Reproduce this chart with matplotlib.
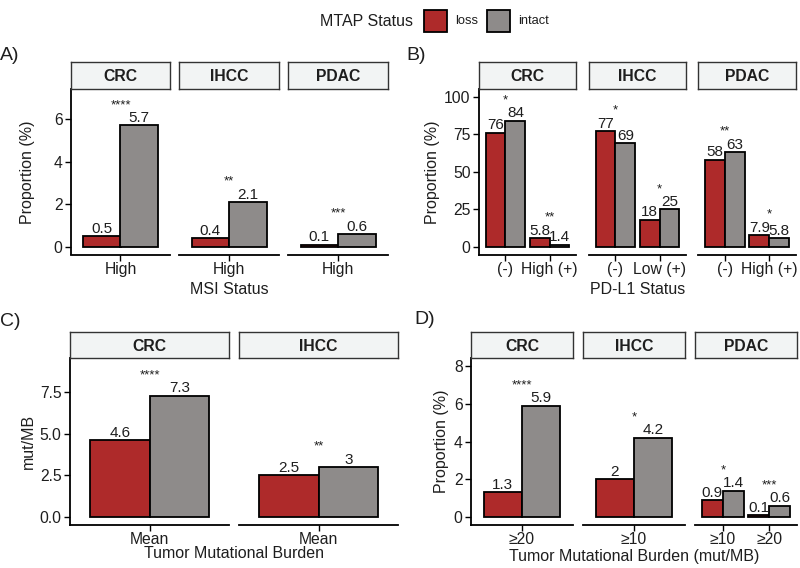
import matplotlib.pyplot as plt
from matplotlib.patches import Rectangle

plt.rcParams['font.family'] = ['Liberation Sans', 'DejaVu Sans']

LOSS_COL = '#AE2A2A'
INTACT_COL = '#8E8B8A'
STRIP_COL = '#F2F4F4'
TXT = '#1e1e1e'

# ---- data ----
# A) MSI status
a_facets = ['CRC', 'IHCC', 'PDAC']
a_cats = [['High'], ['High'], ['High']]
a_loss = [[0.5], [0.4], [0.1]]
a_intact = [[5.7], [2.1], [0.6]]
a_loss_lab = [['0.5'], ['0.4'], ['0.1']]
a_intact_lab = [['5.7'], ['2.1'], ['0.6']]
a_stars = [['****'], ['**'], ['***']]

# B) PD-L1 status
b_facets = ['CRC', 'IHCC', 'PDAC']
b_cats = [['(-)', 'High (+)'], ['(-)', 'Low (+)'], ['(-)', 'High (+)']]
b_loss = [[76, 5.8], [77, 18], [58, 7.9]]
b_intact = [[84, 1.4], [69, 25], [63, 5.8]]
b_loss_lab = [['76', '5.8'], ['77', '18'], ['58', '7.9']]
b_intact_lab = [['84', '1.4'], ['69', '25'], ['63', '5.8']]
b_stars = [['*', '**'], ['*', '*'], ['**', '*']]

# C) mean TMB
c_facets = ['CRC', 'IHCC']
c_cats = [['Mean'], ['Mean']]
c_loss = [[4.6], [2.5]]
c_intact = [[7.3], [3.0]]
c_loss_lab = [['4.6'], ['2.5']]
c_intact_lab = [['7.3'], ['3']]
c_stars = [['****'], ['**']]

# D) TMB high
d_facets = ['CRC', 'IHCC', 'PDAC']
d_cats = [['≥20'], ['≥10'], ['≥10', '≥20']]
d_loss = [[1.3], [2.0], [0.9, 0.1]]
d_intact = [[5.9], [4.2], [1.4, 0.6]]
d_loss_lab = [['1.3'], ['2'], ['0.9', '0.1']]
d_intact_lab = [['5.9'], ['4.2'], ['1.4', '0.6']]
d_stars = [['****'], ['*'], ['*', '***']]

W, H = 800, 568
fig = plt.figure(figsize=(W / 100, H / 100), dpi=100)


def px_axes(x0, x1, y0, y1):
    return fig.add_axes([x0 / W, 1 - y1 / H, (x1 - x0) / W, (y1 - y0) / H])


def fx(x):
    return x / W


def fy(y):
    return 1 - y / H


def panel(xs, ytop, ybot, strip_top, facets, cats, loss, intact, loss_lab,
          intact_lab, stars, ylim, yticks, yticklabels, ylabel, xlabel, tag):
    for i, (x0, x1) in enumerate(xs):
        ax = px_axes(x0, x1, ytop, ybot)
        n = len(cats[i])
        pos = list(range(1, n + 1))
        wb = 0.45
        ax.bar([p - wb / 2 for p in pos], loss[i], width=wb, color=LOSS_COL,
               edgecolor='black', linewidth=1.3, zorder=2)
        ax.bar([p + wb / 2 for p in pos], intact[i], width=wb, color=INTACT_COL,
               edgecolor='black', linewidth=1.3, zorder=2)
        for j, p in enumerate(pos):
            ax.annotate(loss_lab[i][j], (p - wb / 2, loss[i][j]), xytext=(0, 2.5),
                        textcoords='offset points', ha='center', va='baseline',
                        fontsize=11, color=TXT)
            ax.annotate(intact_lab[i][j], (p + wb / 2, intact[i][j]), xytext=(0, 2.5),
                        textcoords='offset points', ha='center', va='baseline',
                        fontsize=11, color=TXT)
            top = max(loss[i][j], intact[i][j])
            ax.annotate(stars[i][j], (p, top), xytext=(0, 12.5),
                        textcoords='offset points', ha='center', va='baseline',
                        fontsize=9.5, color=TXT)
        ax.set_xlim(0.4, n + 0.6)
        ax.set_ylim(*ylim)
        ax.set_xticks(pos)
        ax.set_xticklabels(cats[i], fontsize=11.3, color=TXT)
        for s in ['top', 'right']:
            ax.spines[s].set_visible(False)
        ax.spines['bottom'].set_linewidth(1.3)
        ax.spines['left'].set_linewidth(1.3)
        ax.tick_params(axis='x', length=4, width=1, pad=1.5)
        if i == 0:
            ax.set_yticks(yticks)
            ax.set_yticklabels(yticklabels, fontsize=11.3, color=TXT)
            ax.tick_params(axis='y', length=4, width=1, pad=2)
        else:
            ax.spines['left'].set_visible(False)
            ax.set_yticks([])
        # strip
        sax = px_axes(x0, x1, strip_top, ytop)
        sax.set_facecolor(STRIP_COL)
        sax.set_xticks([])
        sax.set_yticks([])
        for s in sax.spines.values():
            s.set_linewidth(1.0)
            s.set_color('#333333')
        sax.text(0.5, 0.45, facets[i], ha='center', va='center', fontsize=11.3,
                 fontweight='bold', transform=sax.transAxes, color=TXT)
    xmid = (xs[0][0] + xs[-1][1]) / 2
    fig.text(fx(xmid), fy(xlabel[1]), xlabel[0], ha='center', va='center',
             fontsize=11.5, color=TXT)
    fig.text(fx(ylabel[1]), fy((ytop + ybot) / 2), ylabel[0], ha='center',
             va='center', rotation=90, fontsize=11.5, color=TXT)
    fig.text(fx(tag[1]), fy(tag[2]), tag[0], ha='left', va='center', fontsize=14,
             color=TXT)


panel([(71, 170), (179, 279), (288, 388)], 89, 254.5, 62, a_facets, a_cats, a_loss,
      a_intact, a_loss_lab, a_intact_lab, a_stars, (-0.35, 7.40), [0, 2, 4, 6],
      ['0', '2', '4', '6'], ('Proportion (%)', 27.5), ('MSI Status', 289),
      ('A)', 0, 56))

panel([(479, 576), (589, 686), (698, 796)], 89, 254.5, 62, b_facets, b_cats, b_loss,
      b_intact, b_loss_lab, b_intact_lab, b_stars, (-5, 105), [0, 25, 50, 75, 100],
      ['0', '25', '50', '75', '100'], ('Proportion (%)', 432.5),
      ('PD-L1 Status', 289), ('B)', 406, 56))

panel([(70, 229), (239, 398)], 358, 524.5, 332, c_facets, c_cats, c_loss, c_intact,
      c_loss_lab, c_intact_lab, c_stars, (-0.46, 9.56), [0, 2.5, 5, 7.5],
      ['0.0', '2.5', '5.0', '7.5'], ('mut/MB', 28),
      ('Tumor Mutational Burden', 554), ('C)', 0, 321))

panel([(471, 573), (583, 685), (695, 797)], 358, 524.5, 332, d_facets, d_cats, d_loss,
      d_intact, d_loss_lab, d_intact_lab, d_stars, (-0.4, 8.44), [0, 2, 4, 6, 8],
      ['0', '2', '4', '6', '8'], ('Proportion (%)', 441.5),
      ('Tumor Mutational Burden (mut/MB)', 556), ('D)', 414, 320))

# legend, drawn on one row: title, then keys
fig.text(fx(320), fy(21), 'MTAP Status', ha='left', va='center', fontsize=11.5,
         color=TXT)
leg_labels = ['loss', 'intact']
leg_cols = [LOSS_COL, INTACT_COL]
for k, (lab, col) in enumerate(zip(leg_labels, leg_cols)):
    kx = 424 + k * 63
    fig.patches.append(Rectangle((fx(kx), fy(32)), 23 / W, 22 / H, facecolor=col,
                                 edgecolor='black', linewidth=1.3,
                                 transform=fig.transFigure, figure=fig))
    fig.text(fx(kx + 31), fy(21), lab, ha='left', va='center', fontsize=9.3,
             color=TXT)

fig.savefig('out.png', dpi=100)
